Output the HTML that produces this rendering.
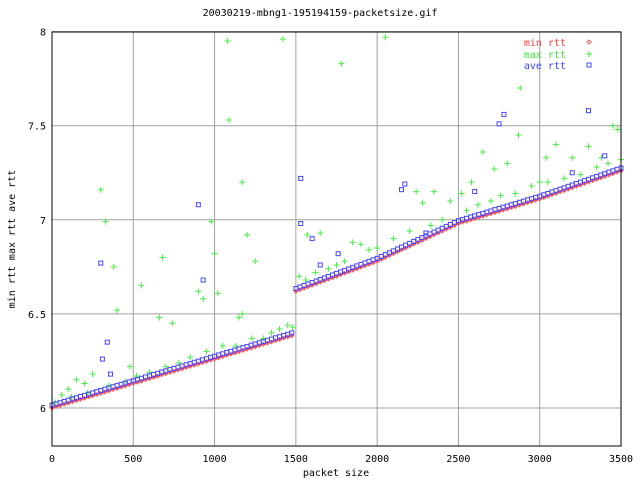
<!DOCTYPE html>
<html><head><meta charset="utf-8"><style>
body{margin:0;background:#fff}
svg text{font-family:"DejaVu Sans Mono","Liberation Mono",monospace;font-size:10px}
</style></head><body>
<svg id="chart" width="640" height="480" xmlns="http://www.w3.org/2000/svg">
<rect width="640" height="480" fill="#fff"/>
<g id="grid"></g>
<g id="pts"></g>
<rect x="52" y="32" width="569" height="414" fill="none" stroke="#000"/>
<g id="ticks"></g>
<text x="320" y="16" text-anchor="middle">20030219-mbng1-195194159-packetsize.gif</text>
<text x="336" y="476" text-anchor="middle">packet size</text>
<text transform="translate(15,239) rotate(-90)" text-anchor="middle">min rtt max rtt ave rtt</text>
<g>
<text x="566" y="46" text-anchor="end" fill="#ff4040">min rtt</text>
<text x="566" y="58" text-anchor="end" fill="#40e040">max rtt</text>
<text x="566" y="69" text-anchor="end" fill="#4040ff">ave rtt</text>
<path d="M589 40l2 2-2 2-2-2z" fill="none" stroke="#f55"/>
<path d="M586 54h6M589 51v6" stroke="#4e4"/>
<rect x="587" y="63" width="4" height="4" fill="none" stroke="#44f"/>
</g>
</svg>
<script>
const xTicks=[0,500,1000,1500,2000,2500,3000,3500];
const yTicks=[6,6.5,7,7.5,8];
const xStart=0, xStep=25;
const minRtt=[6.000,6.007,6.013,6.020,6.026,6.033,6.039,6.046,6.052,6.059,6.065,6.072,6.078,6.085,6.091,6.098,6.104,6.111,6.117,6.124,6.130,6.137,6.143,6.150,6.156,6.163,6.169,6.176,6.182,6.189,6.195,6.202,6.208,6.215,6.221,6.228,6.234,6.241,6.247,6.254,6.260,6.267,6.273,6.280,6.286,6.293,6.299,6.306,6.312,6.319,6.325,6.332,6.338,6.345,6.351,6.358,6.364,6.371,6.377,6.384,
6.620,6.628,6.636,6.644,6.652,6.660,6.668,6.676,6.684,6.692,6.700,6.708,6.716,6.724,6.732,6.740,6.748,6.756,6.764,6.772,6.780,
6.790,6.800,6.810,6.820,6.830,6.840,6.850,6.860,6.870,6.880,6.890,6.900,6.910,6.920,6.930,6.940,6.950,6.960,6.970,6.980,
6.987,6.993,7.000,7.006,7.013,7.019,7.026,7.032,7.039,7.045,7.052,7.058,7.065,7.071,7.078,7.084,7.091,7.097,7.104,7.110,
7.118,7.125,7.133,7.140,7.148,7.155,7.163,7.170,7.178,7.185,7.193,7.200,7.208,7.215,7.223,7.230,7.238,7.245,7.253,7.260];
const aveRtt=[6.015,6.022,6.028,6.035,6.041,6.048,6.054,6.061,6.067,6.074,6.080,6.087,6.093,6.100,6.106,6.113,6.119,6.126,6.132,6.139,6.145,6.152,6.158,6.165,6.171,6.178,6.184,6.191,6.197,6.204,6.210,6.217,6.223,6.230,6.236,6.243,6.249,6.256,6.262,6.269,6.275,6.282,6.288,6.295,6.301,6.308,6.314,6.321,6.327,6.334,6.340,6.347,6.353,6.360,6.366,6.373,6.379,6.386,6.392,6.399,
6.635,6.643,6.651,6.659,6.667,6.675,6.683,6.691,6.699,6.707,6.715,6.723,6.731,6.739,6.747,6.755,6.763,6.771,6.779,6.787,6.795,
6.805,6.815,6.825,6.835,6.845,6.855,6.865,6.875,6.885,6.895,6.905,6.915,6.925,6.935,6.945,6.955,6.965,6.975,6.985,6.995,
7.002,7.008,7.015,7.021,7.028,7.034,7.041,7.047,7.054,7.060,7.067,7.073,7.080,7.086,7.093,7.099,7.106,7.112,7.119,7.125,
7.133,7.140,7.148,7.155,7.163,7.170,7.178,7.185,7.193,7.200,7.208,7.215,7.223,7.230,7.238,7.245,7.253,7.260,7.268,7.275];
const aveOutX=[300,310,340,360,900,930,1530,1530,1600,1650,1760,2150,2170,2300,2600,2750,2780,3300,3400,3200];
const aveOutY=[6.77,6.26,6.35,6.18,7.08,6.68,7.22,6.98,6.90,6.76,6.82,7.16,7.19,6.93,7.15,7.51,7.56,7.58,7.34,7.25];
const maxX=[20,60,100,150,200,250,300,330,380,400,480,550,660,680,740,900,930,980,1000,1020,1080,1090,1150,1170,1170,1200,1250,1420,1780,2050,2880,2870,3450,3480,1650,1570,2240,2280,2350,2520,2580,2650,2800,3040,3100,3200,3300,3380,2720,2450,1850,1900,2000,
120,220,350,450,520,600,700,780,850,950,1050,1130,1230,1300,1350,1400,1450,1480,1520,1560,1620,1700,1750,1800,1950,2100,2200,2330,2400,2550,2620,2700,2760,2850,2950,3000,3050,3150,3250,3350,3420,3500];
const maxY=[6.03,6.07,6.10,6.15,6.13,6.18,7.16,6.99,6.75,6.52,6.22,6.65,6.48,6.80,6.45,6.62,6.58,6.99,6.82,6.61,7.95,7.53,6.48,6.50,7.20,6.92,6.78,7.96,7.83,7.97,7.70,7.45,7.50,7.48,6.93,6.92,7.15,7.09,7.15,7.14,7.20,7.36,7.30,7.33,7.40,7.33,7.39,7.33,7.27,7.10,6.88,6.87,6.85,
6.06,6.08,6.12,6.14,6.17,6.19,6.22,6.24,6.27,6.30,6.33,6.33,6.37,6.37,6.40,6.42,6.44,6.43,6.70,6.68,6.72,6.74,6.76,6.78,6.84,6.90,6.94,6.97,7.00,7.05,7.08,7.10,7.13,7.14,7.18,7.20,7.20,7.22,7.24,7.28,7.30,7.32];
const X=v=>52+v/3500*569, Y=v=>408-(v-6)*188.2;
const ns="http://www.w3.org/2000/svg";
function mk(p,t,a){const e=document.createElementNS(ns,t);for(const k in a)e.setAttribute(k,a[k]);p.appendChild(e);return e;}
const grid=document.getElementById('grid'),ticks=document.getElementById('ticks'),pts=document.getElementById('pts');
xTicks.forEach(t=>{const x=X(t);
 const l=mk(grid,'line',{x1:x,x2:x,y1:32,y2:446,stroke:'#a0a0a0'});
 
 
 const s=mk(ticks,'text',{x:x,y:462,'text-anchor':'middle'});s.textContent=t;
 
 });
yTicks.forEach(t=>{const y=Y(t);
 const l=mk(grid,'line',{x1:52,x2:621,y1:y,y2:y,stroke:'#a0a0a0'});
 
 
 const s=mk(ticks,'text',{x:46,y:y+4,'text-anchor':'end'});s.textContent=t;
 
 });
function plus(x,y){const e=mk(pts,'path',{d:`M${X(x)-3} ${Y(y)}h6M${X(x)} ${Y(y)-3}v6`,stroke:'#44ee44'});
 
 }
function sq(x,y){const e=mk(pts,'rect',{x:X(x)-2,y:Y(y)-2,width:4,height:4,fill:'none',stroke:'#4444ff'});
 
 }
maxX.forEach((x,i)=>plus(x,maxY[i]));
minRtt.forEach((v,i)=>{const x=xStart+i*xStep;
 const e=mk(pts,'path',{d:`M${X(x)} ${Y(v)-2.5}l2.5 2.5-2.5 2.5-2.5-2.5z`,fill:'#ff5555'});
 
 });
aveRtt.forEach((v,i)=>sq(xStart+i*xStep,v));
aveOutX.forEach((x,i)=>sq(x,aveOutY[i]));
</script>
</body></html>
